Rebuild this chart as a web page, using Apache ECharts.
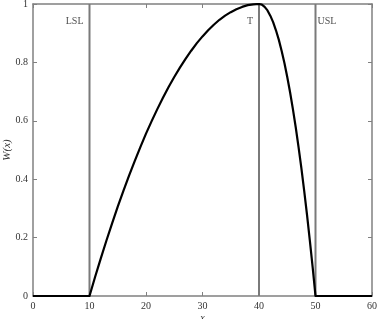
<!DOCTYPE html>
<html><head><meta charset="utf-8">
<script src="https://cdn.jsdelivr.net/npm/echarts@6/dist/echarts.min.js"></script>
<style>html,body{margin:0;padding:0;background:#fff}#c{width:377px;height:319px}</style>
</head><body><div id="c"></div>
<script>
// Curve W(x)
const curveX = [0, 5, 10, 11, 12, 13, 14, 15, 16, 17, 18, 19, 20, 21, 22, 23, 24, 25, 26, 27, 28, 29, 30, 31, 32, 33, 34, 35, 36, 37, 38, 39, 40, 40.5, 41, 41.5, 42, 42.5, 43, 43.5, 44, 44.5, 45, 45.5, 46, 46.5, 47, 47.5, 48, 48.5, 49, 49.5, 50, 55, 60];
const curveW = [0, 0, 0, 0.066, 0.129, 0.19, 0.249, 0.306, 0.36, 0.412, 0.462, 0.51, 0.556, 0.599, 0.64, 0.679, 0.716, 0.75, 0.782, 0.812, 0.84, 0.866, 0.889, 0.91, 0.929, 0.946, 0.96, 0.972, 0.982, 0.99, 0.996, 0.999, 1, 0.998, 0.99, 0.978, 0.96, 0.938, 0.91, 0.878, 0.84, 0.798, 0.75, 0.698, 0.64, 0.578, 0.51, 0.438, 0.36, 0.278, 0.19, 0.098, 0, 0, 0];
// Specification limits
const limitX = [10, 40, 50];
const limitNames = ['LSL', 'T', 'USL'];
const limitLabelY = 0.94;
const xTicks = [0, 10, 20, 30, 40, 50, 60];
const yTicks = [0, 0.2, 0.4, 0.6, 0.8, 1];

const FONT = 'Liberation Serif';
const chart = echarts.init(document.getElementById('c'));
const axisCol = '#808080';
const curveData = curveX.map((x, i) => [x, curveW[i]]);
const limitSeries = limitX.map(x => ({
  type: 'line', data: [[x, 0], [x, 1]], symbol: 'none', silent: true,
  lineStyle: { color: '#7a7a7a', width: 2 }, z: 1
}));
const labelData = limitX.map((x, i) => ({
  value: [x, limitLabelY],
  label: { formatter: limitNames[i], position: i === 2 ? 'right' : 'left', distance: i === 2 ? 2 : 6 }
}));
const baseAxis = {
  axisLine: { onZero: false, lineStyle: { color: axisCol, width: 1.5 } },
  axisTick: { inside: true, length: 4, lineStyle: { color: axisCol } },
  splitLine: { show: false },
  axisLabel: { fontFamily: FONT, fontSize: 10, color: '#333' }
};
chart.setOption({
  animation: false,
  grid: { left: 33, right: 5, top: 4, bottom: 23, outerBoundsMode: 'none', containLabel: false },
  xAxis: [
    Object.assign({}, baseAxis, { type: 'value', min: 0, max: 60, interval: 10, position: 'bottom',
      name: 'x', nameLocation: 'middle', nameGap: 17, nameMoveOverlap: false, nameTextStyle: { fontFamily: FONT, fontStyle: 'italic', fontSize: 10, color: '#333' },
      axisLabel: Object.assign({}, baseAxis.axisLabel, { margin: 5, formatter: v => xTicks.includes(v) ? String(v) : '' }) }),
    Object.assign({}, baseAxis, { type: 'value', min: 0, max: 60, interval: 10, position: 'top', axisLabel: { show: false } })
  ],
  yAxis: [
    Object.assign({}, baseAxis, { type: 'value', min: 0, max: 1, interval: 0.2, position: 'left',
      name: 'W(x)', nameLocation: 'middle', nameGap: 20, nameRotate: 90, nameMoveOverlap: false,
      nameTextStyle: { fontFamily: FONT, fontStyle: 'italic', fontSize: 11, color: '#333' },
      axisLabel: Object.assign({}, baseAxis.axisLabel, { margin: 5, formatter: v => { const t = yTicks.find(k => Math.abs(k - v) < 1e-9); return t === undefined ? '' : (t === 0 || t === 1 ? String(t) : t.toFixed(1)); } }) }),
    Object.assign({}, baseAxis, { type: 'value', min: 0, max: 1, interval: 0.2, position: 'right', axisLabel: { show: false } })
  ],
  series: [
    ...limitSeries,
    { type: 'line', data: curveData, symbol: 'none', smooth: false, lineStyle: { color: '#000', width: 2.2, join: 'round' }, z: 3 },
    { type: 'scatter', data: labelData, symbolSize: 0, silent: true,
      label: { show: true, fontFamily: FONT, fontSize: 10, color: '#222' }, z: 4 }
  ]
});
</script></body></html>
